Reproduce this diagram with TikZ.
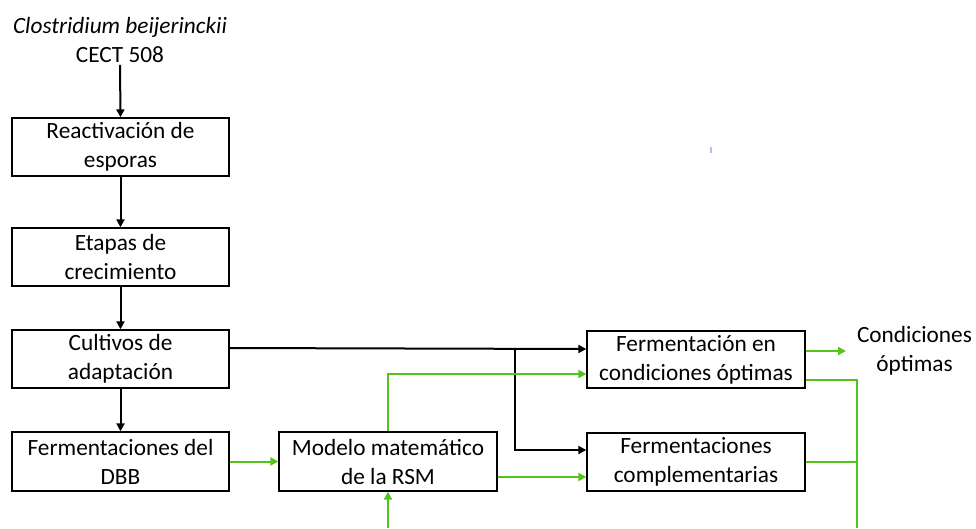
\documentclass[tikz,border=0pt]{standalone}
\usepackage{fontspec}
\setmainfont{Carlito}
\usetikzlibrary{arrows.meta,calc}
\definecolor{flowgreen}{RGB}{82,196,26}
\definecolor{markblue}{RGB}{170,195,235}
\begin{document}
\begin{tikzpicture}[x=1pt,y=-1pt,
  every node/.style={font=\fontsize{23.3}{29}\selectfont},
  box/.style={draw=black,line width=1.4pt,rectangle,minimum width=217pt,minimum height=58pt,align=center,inner sep=0pt},
  blk/.style={draw=black,line width=2pt,-{Triangle[length=8pt,width=8pt]}},
  grn/.style={draw=flowgreen,line width=2pt,-{Triangle[length=8pt,width=8pt]}},
  grnline/.style={draw=flowgreen,line width=2pt}]
\useasboundingbox (0,0) rectangle (976,528);

% strain label
\node[align=center,inner sep=0pt] (strain) at (120,40) {\textit{Clostridium beijerinckii}\\CECT 508};

% main column
\node[box] (reac) at (120.5,147) {Reactivación de\\esporas};
\node[box] (etapas) at (120.5,257) {Etapas de\\crecimiento};
\node[box] (cult) at (120.5,359) {Cultivos de\\adaptación};
\node[box,minimum height=59pt] (dbb) at (120.5,461.5) {Fermentaciones del\\DBB};

% model and fermentations
\node[box,minimum width=218pt,minimum height=59pt] (rsm) at (388,461.5) {Modelo matemático\\de la RSM};
\node[box,minimum width=218pt,minimum height=57pt] (fopt) at (696,359.5) {Fermentación en\\condiciones óptimas};
\node[box,minimum width=218pt] (fcomp) at (696,462) {Fermentaciones\\complementarias};
\node[align=center,inner sep=0pt] (cond) at (914.5,351) {Condiciones\\óptimas};

% helper points
\coordinate (split) at (515,348);
\coordinate (condin) at (846,351);
\coordinate (bus) at (857,380);
\coordinate (busend) at (857,528);
\coordinate (rsmfeed) at (388,528);
\coordinate (rsmup) at (388,374);

% black connectors
\draw[blk] ([yshift=-2pt]strain.south) -- (reac.north);
\draw[blk] (reac.south) -- (etapas.north);
\draw[blk] (etapas.south) -- (cult.north);
\draw[blk] (cult.south) -- (dbb.north);
\draw[blk] ([yshift=11pt]cult.east) -- ([yshift=10.5pt]fopt.west);
\draw[blk] (split) |- ([yshift=12pt]fcomp.west);

% green connectors
\draw[grn] (dbb.east) -- (rsm.west);
\draw[grn] (rsm.north) -- (rsmup) -- ([yshift=-14.5pt]fopt.west);
\draw[grn] ([yshift=-15.5pt]rsm.east) -- ([yshift=-15pt]fcomp.west);
\draw[grn] (rsmfeed) -- (rsm.south);
\draw[grn] ([yshift=8.5pt]fopt.east) -- (condin);
\draw[grnline] ([yshift=-20.5pt]fopt.east) -- (bus) -- (busend);
\draw[grnline] (fcomp.east) -- (fcomp.east -| bus);

% small mark
\fill[markblue] (709.5,147) rectangle (711.5,153);
\end{tikzpicture}
\end{document}
